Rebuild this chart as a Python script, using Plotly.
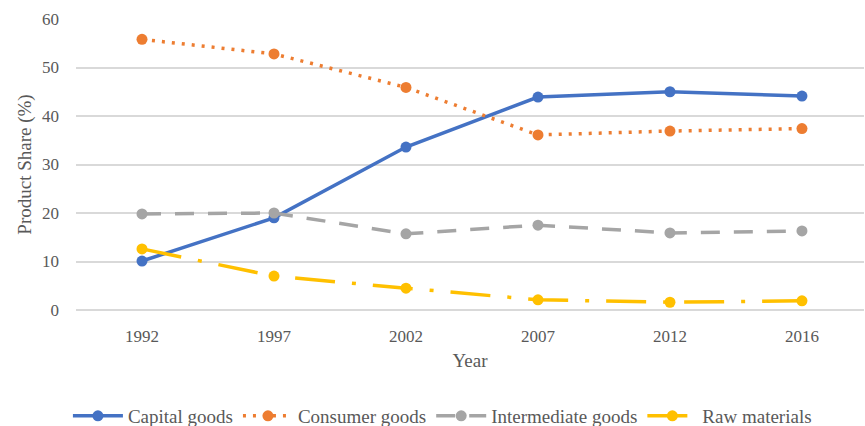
import plotly.graph_objects as go

years = ["1992", "1997", "2002", "2007", "2012", "2016"]
capital_goods = [10.1, 19.0, 33.6, 43.9, 45.0, 44.1]
consumer_goods = [55.8, 52.8, 45.9, 36.1, 36.9, 37.4]
intermediate_goods = [19.8, 20.0, 15.7, 17.5, 15.9, 16.3]
raw_materials = [12.6, 7.0, 4.5, 2.1, 1.6, 1.9]

font_family = "Liberation Serif"
text_color = "#595959"

series = [
    ("Capital goods", capital_goods, "#4472C4", "solid"),
    ("Consumer goods", consumer_goods, "#ED7D31", "3px,7px"),
    ("Intermediate goods", intermediate_goods, "#A5A5A5", "19px,14px"),
    ("Raw materials", raw_materials, "#FFC000", "40px,17px,4px,17px"),
]

fig = go.Figure()
for name, vals, color, dash in series:
    fig.add_trace(go.Scatter(
        x=years, y=vals, name=name, mode="lines+markers",
        line=dict(color=color, width=3.5, dash=dash),
        marker=dict(color=color, size=11),
    ))

fig.update_layout(
    width=865, height=426,
    margin=dict(l=76, r=1, t=19, b=116, autoexpand=False),
    paper_bgcolor="white", plot_bgcolor="white",
    font=dict(family=font_family, size=17, color=text_color),
    showlegend=True,
    legend=dict(orientation="h", x=0.465, xanchor="center", y=-0.364, yanchor="middle",
                font=dict(size=19, color=text_color), itemwidth=50, tracegroupgap=0),
    xaxis=dict(type="category", range=[-0.5, 5.47], showgrid=False, showline=False, ticks="",
               tickfont=dict(size=17), ticklabelstandoff=14, automargin=False,
               title=dict(text="Year", font=dict(size=19), standoff=8)),
    yaxis=dict(range=[0, 60], dtick=10, showgrid=True, gridcolor="#D9D9D9", gridwidth=1.5,
               zeroline=True, zerolinecolor="#D9D9D9", zerolinewidth=1.5, showline=False,
               tickfont=dict(size=17), ticklabelstandoff=16, automargin=False,
               title=dict(text="Product Share (%)", font=dict(size=19), standoff=5)),
)

fig.write_html("out.html")
